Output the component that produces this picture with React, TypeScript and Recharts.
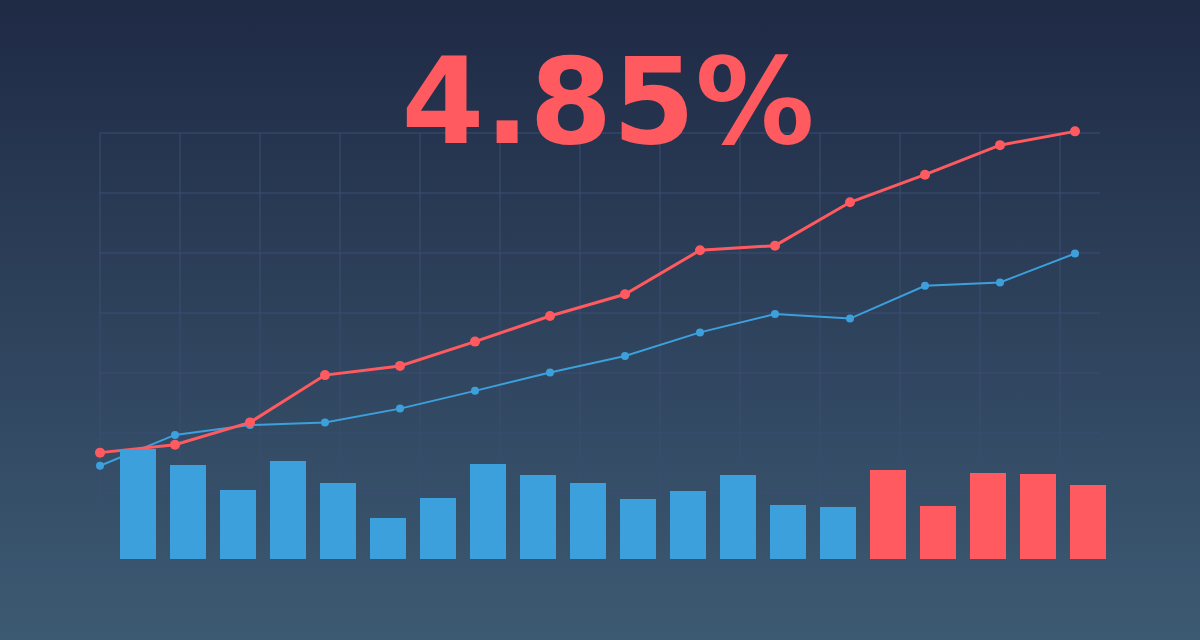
import { Bar, BarChart, CartesianGrid, Cell, LineChart, Line, ScatterChart, XAxis, YAxis } from "recharts";

const days = ["01", "02", "03", "04", "05", "06", "07", "08", "09", "10", "11", "12", "13", "14"];
const strategyReturn = [-0.04, 0.08, 0.42, 1.14, 1.28, 1.65, 2.04, 2.37, 3.04, 3.11, 3.77, 4.19, 4.64, 4.85];
const benchmarkReturn = [-0.24, 0.23, 0.38, 0.42, 0.63, 0.9, 1.18, 1.43, 1.79, 2.07, 2.0, 2.5, 2.55, 2.99];

const sessions = ["s1", "s2", "s3", "s4", "s5", "s6", "s7", "s8", "s9", "s10", "s11", "s12", "s13", "s14", "s15", "s16", "s17", "s18", "s19", "s20"];
const volume = [110, 94, 69, 98, 76, 41, 61, 95, 84, 76, 60, 68, 84, 54, 52, 89, 53, 86, 85, 74];
const recentSessions = 5;

const gridColumns = [0, 1, 2, 3, 4, 5, 6, 7, 8, 9, 10, 11, 12];
const gridRows = [0, 1, 2, 3, 4, 5, 6];
const headline = "4.85%";

const RED = "#ff5a5f";
const BLUE = "#3ca0dd";
const GRID = "#3c4c74";

const lineData = days.map((day, i) => ({
  day,
  strategy: strategyReturn[i],
  benchmark: benchmarkReturn[i],
}));

const barData = sessions.map((session, i) => ({ session, volume: volume[i] }));

const layer: React.CSSProperties = { position: "absolute", left: 0, top: 0 };

export default function App() {
  return (
    <div
      style={{
        position: "fixed",
        left: 0,
        top: 0,
        width: 1200,
        height: 640,
        overflow: "hidden",
        background: "linear-gradient(180deg, #1f2a45 0%, #3d5a73 100%)",
      }}
    >
      {/* grid */}
      <div style={layer}>
        <ScatterChart width={1200} height={640} margin={{ top: 133, right: 100, bottom: 132, left: 100 }}>
          <XAxis type="number" dataKey="x" domain={[0, 12.5]} ticks={gridColumns} allowDataOverflow hide />
          <YAxis type="number" dataKey="y" domain={[0, 6.25]} ticks={gridRows} reversed allowDataOverflow hide />
          <CartesianGrid stroke={GRID} strokeWidth={1} syncWithTicks />
        </ScatterChart>
      </div>

      {/* headline */}
      <div
        style={{
          position: "absolute",
          left: 8,
          top: 43,
          width: 1200,
          textAlign: "center",
          fontFamily: "'DejaVu Sans', sans-serif",
          fontWeight: 700,
          fontSize: 119,
          lineHeight: 1,
          color: RED,
        }}
      >
        {headline}
      </div>

      {/* returns */}
      <div style={layer}>
        <LineChart width={1200} height={640} data={lineData} margin={{ top: 121.5, right: 100, bottom: 124.3, left: 100 }}>
          <XAxis dataKey="day" padding={{ left: 0, right: 25 }} hide />
          <YAxis type="number" domain={[-1, 5]} hide />
          <Line
            type="linear"
            dataKey="benchmark"
            stroke={BLUE}
            strokeWidth={2}
            dot={{ r: 4, fill: BLUE, stroke: "none" }}
            isAnimationActive={false}
          />
          <Line
            type="linear"
            dataKey="strategy"
            stroke={RED}
            strokeWidth={3}
            dot={{ r: 5, fill: RED, stroke: "none" }}
            isAnimationActive={false}
          />
        </LineChart>
      </div>

      {/* volume */}
      <div style={layer}>
        <BarChart width={1200} height={640} data={barData} margin={{ top: 439, right: 87, bottom: 81, left: 113 }}>
          <XAxis dataKey="session" hide />
          <YAxis type="number" domain={[0, 120]} hide />
          <Bar dataKey="volume" barSize={36} isAnimationActive={false}>
            {barData.map((d, i) => (
              <Cell key={d.session} fill={i >= sessions.length - recentSessions ? RED : BLUE} />
            ))}
          </Bar>
        </BarChart>
      </div>
    </div>
  );
}
